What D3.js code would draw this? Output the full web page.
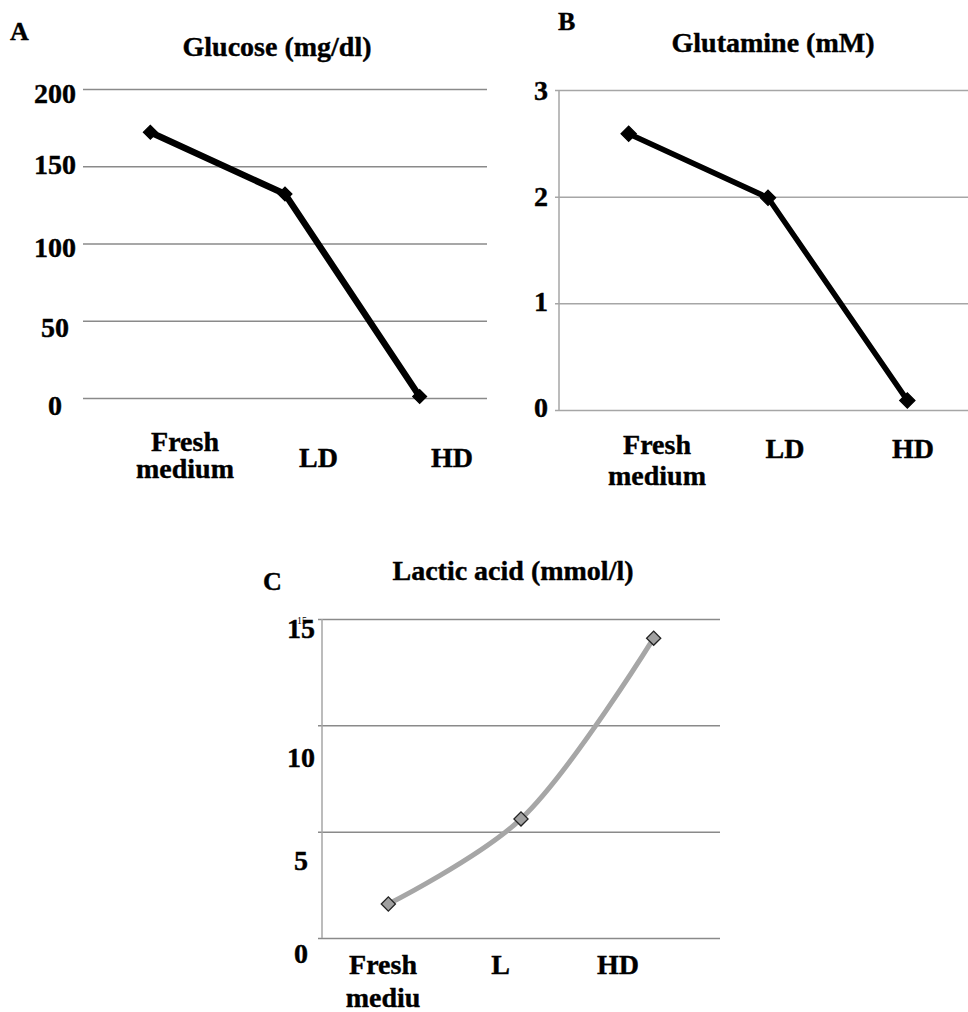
<!DOCTYPE html>
<html>
<head>
<meta charset="utf-8">
<title>Glucose, glutamine and lactic acid</title>
<script src="https://cdn.jsdelivr.net/npm/d3@7"></script>
<style>
  body { margin: 0; background: #fff; }
  svg text { font-family: "Liberation Serif", "Times New Roman", serif; font-weight: bold; fill: #000; stroke: #000; stroke-width: 0.4px; }
  .grid path { display: none; }
</style>
</head>
<body>
<div id="chart"></div>
<script>
// values
var categoriesAB = ["Fresh medium", "LD", "HD"];
var categoriesC = ["Fresh mediu", "L", "HD"];
var glucose = [172, 132, 1];
var glutamine = [2.59, 1.99, 0.09];
var lactic = [1.6, 5.6, 14.1];
var glucoseTicks = [0, 50, 100, 150, 200];
var glutamineTicks = [0, 1, 2, 3];
var lacticTicks = [0, 5, 10, 15];

var width = 968, height = 1012;

var svg = d3.select("#chart").append("svg")
    .attr("width", width)
    .attr("height", height);

// layout of each panel (pixel boxes)
var panels = [
    {
        letter: "A", letterX: 10, letterY: 40,
        title: "Glucose (mg/dl)", titleX: 277, titleY: 56,
        cats: categoriesAB, values: glucose, ticks: glucoseTicks, max: 200,
        x0: 83, x1: 487, gridRight: 487, yTop: 89, yBottom: 398,
        tickX: 55, tickNudge: [7, 7, 4, -2, 4], tickOut: 0, axisLine: false,
        gridColor: "#8a8a8a",
        labelRange: [185, 452], labelY1: 451, labelGap: 27, labelSingleY: 467,
        lineColor: "#000", lineWidth: 6.5, curve: d3.curveLinear,
        markFill: "#000", markStroke: "#000", markSize: 95
    },
    {
        letter: "B", letterX: 558, letterY: 30,
        title: "Glutamine (mM)", titleX: 773, titleY: 52,
        cats: categoriesAB, values: glutamine, ticks: glutamineTicks, max: 3,
        x0: 559, x1: 977, gridRight: 980, yTop: 90, yBottom: 410,
        tickX: 541, tickNudge: [-3, -2, 0, 0], tickOut: 4, axisLine: true,
        gridColor: "#a6a6a6",
        labelRange: [657, 913], labelY1: 454, labelGap: 31, labelSingleY: 458,
        lineColor: "#000", lineWidth: 5.5, curve: d3.curveLinear,
        markFill: "#000", markStroke: "#000", markSize: 115
    },
    {
        letter: "C", letterX: 263, letterY: 590,
        title: "Lactic acid (mmol/l)", titleX: 513, titleY: 580,
        cats: categoriesC, values: lactic, ticks: lacticTicks, max: 15,
        x0: 322, x1: 720, gridRight: 720, yTop: 619, yBottom: 938,
        tickX: 301, tickNudge: [15, 29, 32, 9], tickOut: 4, axisLine: true,
        gridColor: "#8a8a8a",
        labelRange: [383, 618], labelY1: 974, labelGap: 33, labelSingleY: 974,
        lineColor: "#a6a6a6", lineWidth: 5, curve: d3.curveCatmullRom.alpha(0.5),
        markFill: "#a0a0a0", markStroke: "#222", markSize: 100
    }
];

panels.forEach(drawPanel);

function drawPanel(p) {
    var g = svg.append("g");

    var x = d3.scaleBand().domain(p.cats).range([p.x0, p.x1]);
    var y = d3.scaleLinear().domain([0, p.max]).range([p.yBottom, p.yTop]);
    var xl = d3.scalePoint().domain(p.cats).range(p.labelRange);
    var cx = function (d, i) { return x(p.cats[i]) + x.bandwidth() / 2; };

    // gridlines
    var grid = g.append("g")
        .attr("class", "grid")
        .attr("transform", "translate(" + (p.x0 - p.tickOut) + ",0)")
        .call(d3.axisLeft(y)
            .tickValues(p.ticks)
            .tickSize(-(p.gridRight - p.x0 + p.tickOut))
            .tickFormat(""));
    grid.selectAll("line")
        .attr("stroke", p.gridColor)
        .attr("stroke-width", 1.5);

    if (p.axisLine) {
        g.append("line")
            .attr("x1", p.x0).attr("x2", p.x0)
            .attr("y1", y(p.max)).attr("y2", y(0))
            .attr("stroke", "#a6a6a6")
            .attr("stroke-width", 1.5);
    }

    // tick labels
    g.selectAll(".ytick")
        .data(p.ticks)
        .enter().append("text")
        .attr("class", "ytick")
        .attr("x", p.tickX)
        .attr("y", function (d, i) { return y(d) + p.tickNudge[i]; })
        .attr("dominant-baseline", "central")
        .attr("text-anchor", "middle")
        .style("font-size", "28px")
        .text(function (d) { return d; });

    // category labels
    p.cats.forEach(function (c) {
        var words = c.split(" ");
        var t = g.append("text")
            .attr("text-anchor", "middle")
            .style("font-size", "28px");
        if (words.length > 1) {
            t.append("tspan").attr("x", xl(c)).attr("y", p.labelY1).text(words[0]);
            t.append("tspan").attr("x", xl(c)).attr("y", p.labelY1 + p.labelGap).text(words.slice(1).join(" "));
        } else {
            t.attr("x", xl(c)).attr("y", p.labelSingleY).text(c);
        }
    });

    // line
    var line = d3.line()
        .x(cx)
        .y(function (d) { return y(d); })
        .curve(p.curve);

    g.append("path")
        .datum(p.values)
        .attr("d", line)
        .attr("fill", "none")
        .attr("stroke", p.lineColor)
        .attr("stroke-width", p.lineWidth)
        .attr("stroke-linejoin", "round");

    // diamond markers
    var sym = d3.symbol().type(d3.symbolSquare).size(p.markSize);
    g.selectAll(".mark")
        .data(p.values)
        .enter().append("path")
        .attr("class", "mark")
        .attr("d", sym)
        .attr("transform", function (d, i) {
            return "translate(" + cx(d, i) + "," + y(d) + ") rotate(45)";
        })
        .attr("fill", p.markFill)
        .attr("stroke", p.markStroke)
        .attr("stroke-width", 1.3);

    // title and panel letter
    g.append("text")
        .attr("x", p.titleX).attr("y", p.titleY)
        .attr("text-anchor", "middle")
        .style("font-size", "28px")
        .text(p.title);

    g.append("text")
        .attr("x", p.letterX).attr("y", p.letterY)
        .style("font-size", "26px")
        .text(p.letter);
}

// stray small "15" label that sits over the top tick of panel C
svg.append("text")
    .attr("x", 302).attr("y", 624)
    .attr("text-anchor", "middle")
    .style("font-size", "10px")
    .style("font-weight", "normal")
    .style("stroke-width", "0")
    .text(lacticTicks[lacticTicks.length - 1]);
</script>
</body>
</html>
